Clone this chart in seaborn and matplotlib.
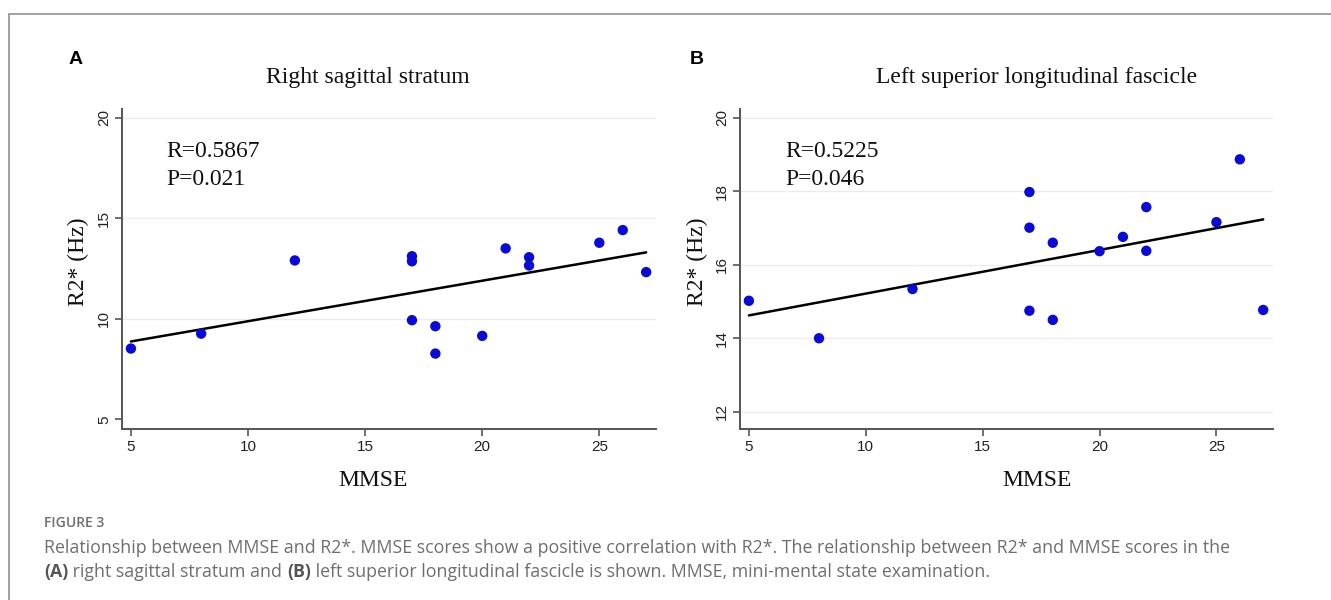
import matplotlib
matplotlib.use("Agg")
import matplotlib.pyplot as plt
import seaborn as sns
import pandas as pd
from matplotlib.lines import Line2D
from matplotlib.offsetbox import TextArea, HPacker, AnnotationBbox

# ---- data ----
mmse = [5, 8, 12, 17, 17, 17, 18, 18, 20, 21, 22, 22, 25, 26, 27]
r2_right_sagittal = [8.52, 9.26, 12.90, 13.11, 12.86, 9.93, 9.63, 8.27, 9.15,
                     13.50, 13.06, 12.65, 13.78, 14.41, 12.32]
mmse_b = [5, 8, 12, 17, 17, 17, 18, 18, 20, 21, 22, 22, 25, 26, 27]
r2_left_slf = [15.02, 14.00, 15.34, 17.98, 17.01, 14.75, 16.60, 14.50, 16.37,
               16.76, 17.57, 16.38, 17.16, 18.87, 14.77]

titles = ["Right sagittal stratum", "Left superior longitudinal fascicle"]
r_text = ["R=0.5867", "R=0.5225"]
p_text = ["P=0.021", "P=0.046"]
panel_letters = ["A", "B"]
xticks = [5, 10, 15, 20, 25]
yticks_a = [5, 10, 15, 20]
yticks_b = [12, 14, 16, 18, 20]
xlabel = "MMSE"
ylabel = "R2* (Hz)"
caption_head = "FIGURE 3"
caption_line1 = ("Relationship between MMSE and R2*. MMSE scores show a positive correlation "
                 "with R2*. The relationship between R2* and MMSE scores in the")
caption_line2 = [("(A)", "bold"), (" right sagittal stratum and ", "normal"), ("(B)", "bold"),
                 (" left superior longitudinal fascicle is shown. MMSE, mini-mental state examination.",
                  "normal")]

sns.set_theme(style="white")
plt.rcParams["font.family"] = ["Liberation Sans", "DejaVu Sans"]

W, H = 1331, 600
fig = plt.figure(figsize=(W / 100, H / 100), dpi=100)
fig.patch.set_facecolor("white")


def fx(px):
    return px / W


def fy(py):
    return 1 - py / H


SERIF = ["Liberation Serif", "DejaVu Serif"]
SANS = ["Liberation Sans", "DejaVu Sans"]
CAP = ["Open Sans", "DejaVu Sans"]

panels = [
    dict(x=mmse, y=r2_right_sagittal, left=122, right=656, ylim=(4.52, 20.43),
         yticks=yticks_a, title_x=368, letter_x=76, stats_x=166, ylab_x=78,
         xlab_x=373, ytick_grid=[10, 15, 20]),
    dict(x=mmse_b, y=r2_left_slf, left=740, right=1273, ylim=(11.53, 20.24),
         yticks=yticks_b, title_x=1037, letter_x=697, stats_x=785, ylab_x=697,
         xlab_x=1037, ytick_grid=[12, 14, 16, 18, 20]),
]

top, bottom = 109, 429
for i, p in enumerate(panels):
    ax = fig.add_axes([fx(p["left"]), fy(bottom), fx(p["right"] - p["left"]),
                       (bottom - top) / H])
    df = pd.DataFrame({"MMSE": p["x"], "R2": p["y"]})
    for g in p["ytick_grid"]:
        ax.axhline(g, color="#ececec", lw=1.0, zorder=0)
    sns.regplot(data=df, x="MMSE", y="R2", ax=ax, scatter=False, ci=None,
                line_kws=dict(color="black", lw=1.8, zorder=2))
    sns.scatterplot(data=df, x="MMSE", y="R2", ax=ax, color="#0a0ad0", s=56,
                    edgecolor="none", zorder=3, legend=False)
    ax.set_xlim(4.62, 27.42)
    ax.set_ylim(*p["ylim"])
    ax.set_xticks(xticks)
    ax.set_yticks(p["yticks"])
    ax.set_xlabel("")
    ax.set_ylabel("")
    for s in ["top", "right"]:
        ax.spines[s].set_visible(False)
    for s in ["left", "bottom"]:
        ax.spines[s].set_color("#555555")
        ax.spines[s].set_linewidth(1.4)
    ax.tick_params(axis="both", which="major", direction="out", length=5,
                   width=1.2, color="#555555", labelsize=11, labelcolor="#222222",
                   bottom=True, left=True, pad=3)
    for lab in ax.get_yticklabels():
        lab.set_rotation(90)
        lab.set_va("center")
    for lab in ax.get_xticklabels() + ax.get_yticklabels():
        lab.set_fontfamily(SANS)
    ax.set_facecolor("white")

    fig.text(fx(p["stats_x"]), fy(157), r_text[i], fontsize=17, family=SERIF,
             color="#111111", va="baseline", ha="left")
    fig.text(fx(p["stats_x"]), fy(185), p_text[i], fontsize=17, family=SERIF,
             color="#111111", va="baseline", ha="left")
    fig.text(fx(p["title_x"]), fy(77), titles[i], fontsize=17, family=SERIF,
             color="#111111", ha="center", va="center")
    fig.text(fx(p["letter_x"]), fy(59), panel_letters[i], fontsize=14,
             family=SANS, weight="bold", color="black", ha="center", va="center")
    fig.text(fx(p["ylab_x"]), fy(262), ylabel, fontsize=17, family=SERIF,
             color="#111111", rotation=90, ha="center", va="center")
    fig.text(fx(p["xlab_x"]), fy(480), xlabel, fontsize=17, family=SERIF,
             color="#111111", ha="center", va="center")

# caption
fig.text(fx(44), fy(523), caption_head, fontsize=10, family=CAP, weight="semibold",
         color="#6e6e6e", ha="left", va="center")
fig.text(fx(44), fy(548), caption_line1, fontsize=12.75, family=CAP,
         color="#6e6e6e", ha="left", va="center")
boxes = [TextArea(t, textprops=dict(fontsize=12.75, family=CAP, weight=w,
                                    color="#555555" if w == "bold" else "#6e6e6e"))
         for t, w in caption_line2]
pack = HPacker(children=boxes, align="baseline", pad=0, sep=0)
ab = AnnotationBbox(pack, (fx(44), fy(572)), xycoords="figure fraction",
                    box_alignment=(0, 0.5), frameon=False, pad=0)
fig.add_artist(ab)

# frame lines
fig.add_artist(Line2D([fx(9), 1], [fy(14), fy(14)], transform=fig.transFigure,
                      color="#9a9a9a", lw=1.3))
fig.add_artist(Line2D([fx(9), fx(9)], [fy(14), 0], transform=fig.transFigure,
                      color="#9a9a9a", lw=1.3))

fig.savefig("out.png", dpi=100, facecolor="white")
